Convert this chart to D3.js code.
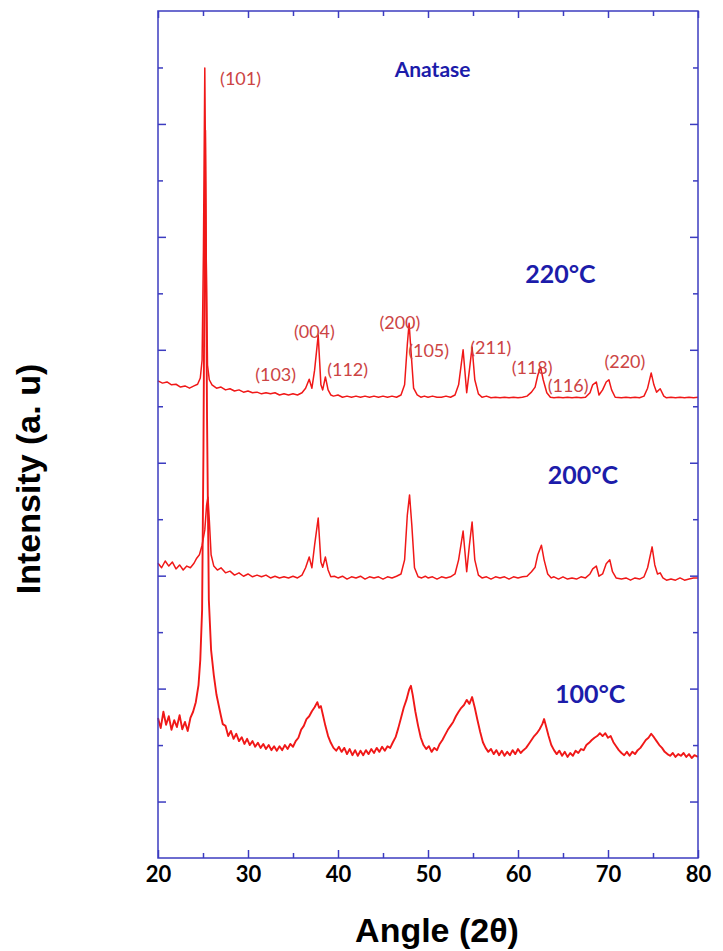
<!DOCTYPE html>
<html>
<head>
<meta charset="utf-8">
<script src="https://cdn.jsdelivr.net/npm/d3@7"></script>
<style>
  body { margin: 0; background: #fff; }
  svg { display: block; }
  .tick text { font-family: Lato, "Open Sans", sans-serif; font-weight: 700; font-size: 22px; fill: #000; }
</style>
</head>
<body>
<svg id="chart" width="723" height="951"></svg>
<script>
// XRD patterns of anatase TiO2, [2theta, intensity a.u.]
var s220 = [
  [20.0, 845], [20.5, 841], [21.0, 843], [21.5, 838], [22.0, 839], [22.5, 834], [23.0, 836], [23.5, 832],
  [24.0, 836], [24.4, 839], [24.7, 850], [24.9, 882], [25.05, 1077], [25.2, 1399], [25.35, 1077], [25.5, 873],
  [25.7, 847], [26.0, 838], [26.5, 832], [27.0, 834], [27.5, 829], [28.0, 831], [28.5, 827], [29.0, 829],
  [29.5, 825], [30.0, 827], [30.5, 824], [31.0, 825], [31.5, 822], [32.0, 824], [32.5, 822], [33.0, 824],
  [33.5, 820], [34.0, 822], [34.5, 820], [35.0, 822], [35.5, 820], [36.0, 824], [36.4, 832], [36.8, 848],
  [37.1, 832], [37.4, 864], [37.8, 926], [38.1, 838], [38.3, 829], [38.6, 852], [38.9, 829], [39.2, 820],
  [39.5, 818], [40.0, 820], [40.5, 816], [41.0, 818], [41.5, 816], [42.0, 818], [42.5, 816], [43.0, 818],
  [43.5, 816], [44.0, 818], [44.5, 816], [45.0, 818], [45.5, 816], [46.0, 818], [46.5, 816], [47.0, 820],
  [47.4, 838], [47.7, 909], [47.9, 947], [48.1, 900], [48.4, 832], [48.8, 820], [49.2, 816], [49.6, 818],
  [50.0, 816], [50.5, 818], [51.0, 816], [51.5, 816], [52.0, 818], [52.5, 816], [53.0, 820], [53.4, 838],
  [53.9, 900], [54.3, 824], [54.6, 864], [54.9, 905], [55.2, 847], [55.6, 822], [56.0, 816], [56.5, 818],
  [57.0, 815], [57.5, 816], [58.0, 815], [58.5, 816], [59.0, 815], [59.5, 816], [60.0, 815], [60.5, 816],
  [61.0, 818], [61.5, 825], [61.9, 834], [62.2, 855], [62.5, 870], [62.8, 847], [63.2, 824], [63.6, 816],
  [64.0, 815], [64.5, 816], [65.0, 815], [65.5, 816], [66.0, 815], [66.5, 816], [67.0, 815], [67.5, 816],
  [68.0, 824], [68.3, 838], [68.7, 843], [69.0, 820], [69.4, 829], [69.8, 843], [70.1, 847], [70.4, 829],
  [70.8, 816], [71.5, 815], [72.0, 816], [72.5, 815], [73.0, 816], [73.5, 815], [74.0, 818], [74.4, 832],
  [74.8, 859], [75.1, 838], [75.4, 825], [75.8, 831], [76.2, 818], [76.5, 815], [77.0, 816], [77.5, 815],
  [78.0, 816], [78.5, 815], [79.0, 816], [79.5, 815], [80.0, 816]
];

var s200 = [
  [20.0, 522], [20.4, 514], [20.8, 526], [21.2, 517], [21.6, 524], [22.0, 512], [22.4, 519], [22.8, 510],
  [23.2, 517], [23.6, 514], [24.0, 522], [24.3, 531], [24.6, 537], [24.9, 554], [25.2, 581], [25.4, 625],
  [25.55, 639], [25.7, 599], [25.9, 537], [26.2, 517], [26.6, 510], [27.0, 514], [27.5, 505], [28.0, 508],
  [28.5, 501], [29.0, 505], [29.5, 499], [30.0, 503], [30.5, 498], [31.0, 501], [31.5, 498], [32.0, 501],
  [32.5, 496], [33.0, 499], [33.5, 496], [34.0, 498], [34.5, 496], [35.0, 499], [35.5, 496], [36.0, 501],
  [36.4, 514], [36.8, 533], [37.1, 514], [37.4, 554], [37.8, 602], [38.1, 524], [38.3, 515], [38.6, 533],
  [38.9, 510], [39.2, 498], [39.6, 499], [40.0, 496], [40.5, 499], [41.0, 494], [41.5, 498], [42.0, 496],
  [42.5, 499], [43.0, 494], [43.5, 498], [44.0, 496], [44.5, 498], [45.0, 494], [45.5, 498], [46.0, 496],
  [46.5, 499], [47.0, 503], [47.4, 528], [47.7, 607], [47.95, 643], [48.2, 590], [48.5, 514], [48.9, 498],
  [49.3, 496], [49.7, 499], [50.0, 496], [50.5, 498], [51.0, 494], [51.5, 498], [52.0, 496], [52.5, 498],
  [53.0, 503], [53.4, 528], [53.9, 579], [54.3, 507], [54.6, 554], [54.9, 595], [55.2, 528], [55.6, 501],
  [56.0, 496], [56.5, 498], [57.0, 494], [57.5, 498], [58.0, 496], [58.5, 498], [59.0, 494], [59.5, 498],
  [60.0, 496], [60.5, 498], [61.0, 499], [61.5, 507], [61.9, 515], [62.2, 537], [62.6, 554], [62.9, 528],
  [63.3, 503], [63.7, 496], [64.0, 498], [64.5, 494], [65.0, 498], [65.5, 494], [66.0, 496], [66.5, 494],
  [67.0, 498], [67.5, 496], [68.0, 503], [68.3, 512], [68.7, 517], [69.0, 499], [69.4, 503], [69.8, 521],
  [70.2, 528], [70.5, 507], [70.9, 496], [71.5, 494], [72.0, 496], [72.5, 492], [73.0, 496], [73.5, 494],
  [74.0, 498], [74.4, 514], [74.9, 551], [75.2, 519], [75.5, 503], [75.8, 505], [76.1, 496], [76.5, 492],
  [77.0, 494], [77.5, 492], [78.0, 496], [78.5, 492], [79.0, 494], [79.5, 496], [80.0, 496]
];

var s100 = [
  [20.0, 248], [20.3, 230], [20.6, 259], [20.9, 236], [21.2, 251], [21.5, 227], [21.8, 244], [22.1, 232],
  [22.4, 253], [22.7, 228], [23.0, 241], [23.3, 225], [23.6, 248], [23.9, 259], [24.2, 276], [24.5, 306],
  [24.7, 351], [24.9, 439], [25.05, 723], [25.25, 1289], [25.45, 776], [25.65, 457], [25.9, 368], [26.2, 324],
  [26.5, 289], [26.8, 266], [27.0, 251], [27.2, 237], [27.5, 234], [27.8, 216], [28.1, 225], [28.4, 211],
  [28.7, 220], [29.0, 207], [29.3, 214], [29.6, 202], [29.9, 211], [30.2, 200], [30.5, 207], [30.8, 197],
  [31.1, 204], [31.4, 195], [31.7, 202], [32.0, 193], [32.3, 200], [32.6, 191], [32.9, 198], [33.2, 190],
  [33.5, 198], [33.8, 191], [34.1, 200], [34.4, 193], [34.7, 202], [35.0, 197], [35.3, 207], [35.6, 213],
  [35.9, 227], [36.2, 234], [36.5, 246], [36.8, 251], [37.1, 260], [37.4, 267], [37.7, 276], [37.9, 266],
  [38.1, 269], [38.3, 255], [38.6, 234], [38.9, 216], [39.2, 204], [39.5, 195], [39.8, 190], [40.1, 197],
  [40.4, 188], [40.7, 195], [41.0, 184], [41.3, 193], [41.6, 182], [41.9, 191], [42.2, 181], [42.5, 190],
  [42.8, 182], [43.1, 191], [43.4, 184], [43.7, 193], [44.0, 186], [44.3, 195], [44.6, 188], [44.9, 197],
  [45.2, 190], [45.5, 198], [45.8, 195], [46.1, 205], [46.4, 214], [46.7, 230], [47.0, 248], [47.3, 266],
  [47.6, 280], [47.9, 298], [48.1, 305], [48.3, 289], [48.6, 259], [48.9, 234], [49.2, 213], [49.5, 200],
  [49.8, 193], [50.1, 198], [50.4, 188], [50.7, 195], [51.0, 191], [51.3, 202], [51.6, 209], [51.9, 218],
  [52.2, 227], [52.5, 234], [52.8, 241], [53.1, 251], [53.4, 259], [53.7, 266], [54.0, 271], [54.3, 280],
  [54.6, 273], [54.9, 285], [55.2, 266], [55.5, 244], [55.8, 223], [56.1, 205], [56.4, 195], [56.7, 188],
  [57.0, 193], [57.3, 184], [57.6, 191], [57.9, 182], [58.2, 190], [58.5, 181], [58.8, 188], [59.1, 182],
  [59.4, 191], [59.7, 184], [60.0, 193], [60.3, 186], [60.6, 191], [60.9, 195], [61.2, 202], [61.5, 209],
  [61.8, 216], [62.1, 221], [62.4, 228], [62.7, 237], [62.9, 246], [63.1, 234], [63.4, 216], [63.7, 200],
  [64.0, 191], [64.3, 184], [64.6, 190], [64.9, 181], [65.2, 188], [65.5, 179], [65.8, 186], [66.1, 181],
  [66.4, 190], [66.7, 186], [67.0, 193], [67.3, 191], [67.6, 200], [67.9, 204], [68.2, 209], [68.5, 213],
  [68.8, 216], [69.1, 221], [69.4, 216], [69.7, 221], [70.0, 213], [70.3, 216], [70.6, 205], [70.9, 198],
  [71.2, 191], [71.5, 186], [71.8, 182], [72.1, 188], [72.4, 181], [72.7, 188], [73.0, 184], [73.3, 191],
  [73.6, 195], [73.9, 202], [74.2, 209], [74.5, 213], [74.8, 220], [75.1, 214], [75.4, 207], [75.7, 200],
  [76.0, 195], [76.3, 188], [76.6, 184], [76.9, 181], [77.2, 186], [77.5, 179], [77.8, 184], [78.1, 181],
  [78.4, 186], [78.7, 179], [79.0, 184], [79.3, 177], [79.6, 182], [80.0, 179]
];

var xMajor = [20, 30, 40, 50, 60, 70, 80];
var xMinor = [25, 35, 45, 55, 65, 75];
var yMajor = [100, 300, 500, 700, 900, 1100, 1300];
var yMinor = [200, 400, 600, 800, 1000, 1200, 1400];

// peak indices: [label, 2theta, intensity] of the label's left baseline
var peakLabels = [
  ["(101)", 26.9, 1369], ["(103)", 30.8, 845], ["(004)", 35.1, 921], ["(112)", 38.8, 854],
  ["(200)", 44.6, 937], ["(105)", 47.8, 887], ["(211)", 54.7, 893], ["(118)", 59.3, 857],
  ["(116)", 63.3, 825], ["(220)", 69.6, 868]
];
var seriesLabels = [
  ["Anatase", 46.3, 1383], ["220°C", 60.8, 1018], ["200°C", 63.3, 662], ["100°C", 64.1, 275]
];

var svg = d3.select("#chart"),
  margin = {top: 11, right: 25, bottom: 93, left: 158},
  width = 723 - margin.left - margin.right,
  height = 951 - margin.top - margin.bottom,
  axisColor = "#3c3cc0";

var g = svg.append("g").attr("transform", "translate(" + margin.left + "," + margin.top + ")");

var x = d3.scaleLinear().domain([20, 80]).range([0, width]);
var y = d3.scaleLinear().domain([0, 1500]).range([height, 0]);

var line = d3.line()
  .x(function(d) { return x(d[0]); })
  .y(function(d) { return y(d[1]); });

[[s100, 1.9], [s200, 1.5], [s220, 1.5]].forEach(function(s) {
  g.append("path")
    .datum(s[0])
    .attr("fill", "none")
    .attr("stroke", "#f01818")
    .attr("stroke-width", s[1])
    .attr("stroke-linejoin", "round")
    .attr("d", line);
});

function styleAxis(sel) {
  sel.select(".domain").remove();
  sel.selectAll(".tick line").attr("stroke", axisColor).attr("stroke-width", 1.5);
}

g.append("g")
  .attr("transform", "translate(0," + height + ")")
  .call(d3.axisBottom(x).tickValues(xMajor).tickSize(-8).tickPadding(8).tickFormat(d3.format("d")))
  .call(styleAxis);
g.append("g")
  .attr("transform", "translate(0," + height + ")")
  .call(d3.axisBottom(x).tickValues(xMinor).tickSize(-5).tickFormat(""))
  .call(styleAxis);
g.append("g")
  .call(d3.axisTop(x).tickValues(xMajor).tickSize(-7).tickFormat(""))
  .call(styleAxis);
g.append("g")
  .call(d3.axisTop(x).tickValues(xMinor).tickSize(-5).tickFormat(""))
  .call(styleAxis);
g.append("g")
  .call(d3.axisLeft(y).tickValues(yMajor).tickSize(-8).tickFormat(""))
  .call(styleAxis);
g.append("g")
  .call(d3.axisLeft(y).tickValues(yMinor).tickSize(-5).tickFormat(""))
  .call(styleAxis);
g.append("g")
  .attr("transform", "translate(" + width + ",0)")
  .call(d3.axisRight(y).tickValues(yMajor).tickSize(-8).tickFormat(""))
  .call(styleAxis);
g.append("g")
  .attr("transform", "translate(" + width + ",0)")
  .call(d3.axisRight(y).tickValues(yMinor).tickSize(-5).tickFormat(""))
  .call(styleAxis);

g.append("rect")
  .attr("width", width)
  .attr("height", height)
  .attr("fill", "none")
  .attr("stroke", axisColor)
  .attr("stroke-width", 1.5);

g.selectAll(".peak")
  .data(peakLabels)
  .enter().append("text")
  .attr("class", "peak")
  .attr("x", function(d) { return x(d[1]); })
  .attr("y", function(d) { return y(d[2]); })
  .attr("font-family", "Lato, sans-serif")
  .attr("font-size", 18)
  .attr("fill", "#cc4444")
  .text(function(d) { return d[0]; });

g.selectAll(".series-label")
  .data(seriesLabels)
  .enter().append("text")
  .attr("class", "series-label")
  .attr("x", function(d) { return x(d[1]); })
  .attr("y", function(d) { return y(d[2]); })
  .attr("font-family", "Lato, sans-serif")
  .attr("font-weight", 700)
  .attr("font-size", function(d, i) { return i == 0 ? 21 : 25; })
  .attr("fill", "#1c1caa")
  .text(function(d) { return d[0]; });

svg.append("text")
  .attr("x", 437)
  .attr("y", 942)
  .attr("text-anchor", "middle")
  .attr("font-family", "'Liberation Sans', Arial, sans-serif")
  .attr("font-weight", 700)
  .attr("font-size", 34)
  .text("Angle (2θ)");

svg.append("text")
  .attr("transform", "translate(40," + 479 + ") rotate(-90)")
  .attr("text-anchor", "middle")
  .attr("font-family", "'Liberation Sans', Arial, sans-serif")
  .attr("font-weight", 700)
  .attr("font-size", 34)
  .text("Intensity (a. u)");
</script>
</body>
</html>
